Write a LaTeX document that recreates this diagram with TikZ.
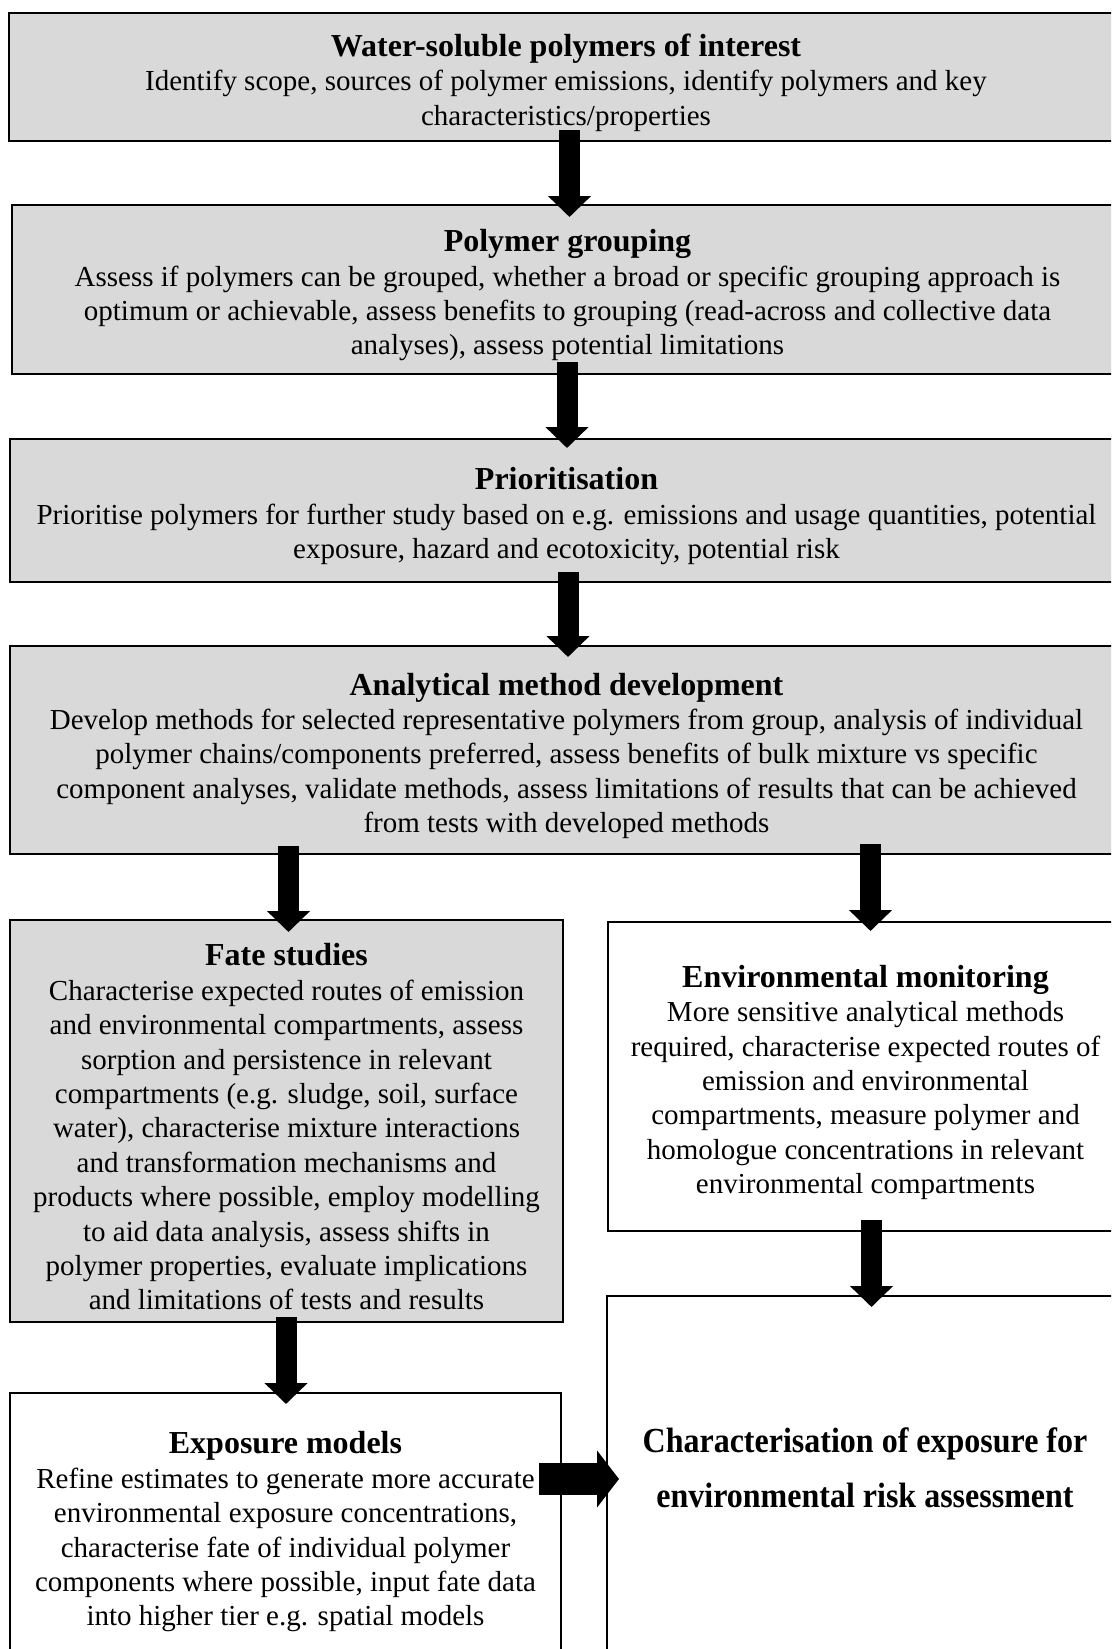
\documentclass[tikz,border=0pt]{standalone}
\usepackage{fontspec}
\setmainfont{Liberation Serif}
\usetikzlibrary{arrows.meta,calc}

\definecolor{boxgray}{HTML}{D9D9D9}

\tikzset{
  box/.style={draw=black, line width=2.6pt, inner sep=0pt, outer sep=0pt,
    align=center, font=\fontsize{29}{34.4}\selectfont},
  graybox/.style={box, fill=boxgray},
  whitebox/.style={box, fill=white},
  varrow/.style={line width=21pt, -{Triangle[length=21pt,width=42pt]}},
  harrow/.style={line width=32pt, -{Triangle[length=22pt,width=56pt]}},
}
% bold heading line; the strut sets the text block a little lower in its box
\newcommand{\ttl}[1]{\rule{0pt}{34pt}{\fontsize{32}{34.4}\selectfont\bfseries #1}}

\begin{document}
\begin{tikzpicture}[x={(1pt,0)}, y={(0,-1pt)}]
\useasboundingbox (0,0) rectangle (1111,1649);
\clip (0,0) rectangle (1111,1649);

% process boxes
\node[graybox, minimum width=1114pt, minimum height=128pt] (b1) at (566,77)
  {\ttl{Water-soluble polymers of interest}\\
   Identify scope, sources of polymer emissions, identify polymers and key\\
   characteristics/properties};

\node[graybox, minimum width=1111pt, minimum height=169pt] (b2) at (567.5,289.5)
  {\ttl{Polymer grouping}\\
   Assess if polymers can be grouped, whether a broad or specific grouping approach is\\
   optimum or achievable, assess benefits to grouping (read-across and collective data\\
   analyses), assess potential limitations};

\node[graybox, minimum width=1113pt, minimum height=143pt] (b3) at (566.5,510.5)
  {\ttl{Prioritisation}\\
   Prioritise polymers for further study based on e.g. emissions and usage quantities, potential\\
   exposure, hazard and ecotoxicity, potential risk};

\node[graybox, minimum width=1113pt, minimum height=208pt] (b4) at (566.5,750)
  {\ttl{Analytical method development}\\
   Develop methods for selected representative polymers from group, analysis of individual\\
   polymer chains/components preferred, assess benefits of bulk mixture vs specific\\
   component analyses, validate methods, assess limitations of results that can be achieved\\
   from tests with developed methods};

\node[graybox, minimum width=553pt, minimum height=402pt] (fate) at (286.5,1121)
  {\ttl{Fate studies}\\
   Characterise expected routes of emission\\
   and environmental compartments, assess\\
   sorption and persistence in relevant\\
   compartments (e.g. sludge, soil, surface\\
   water), characterise mixture interactions\\
   and transformation mechanisms and\\
   products where possible, employ modelling\\
   to aid data analysis, assess shifts in\\
   polymer properties, evaluate implications\\
   and limitations of tests and results};

\node[whitebox, minimum width=515pt, minimum height=309pt] (env) at (865.5,1076.5)
  {\ttl{Environmental monitoring}\\
   More sensitive analytical methods\\
   required, characterise expected routes of\\
   emission and environmental\\
   compartments, measure polymer and\\
   homologue concentrations in relevant\\
   environmental compartments};

\node[whitebox, minimum width=551pt, minimum height=272pt] (exp) at (285.5,1529)
  {\rule{0pt}{28pt}{\fontsize{32}{34.4}\selectfont\bfseries Exposure models}\\
   Refine estimates to generate more accurate\\
   environmental exposure concentrations,\\
   characterise fate of individual polymer\\
   components where possible, input fate data\\
   into higher tier e.g. spatial models};

% the trailing space below the last line lifts the two lines in the box
\node[whitebox, minimum width=516pt, minimum height=369pt,
      font=\fontsize{32}{50}\selectfont\bfseries] (char) at (865,1480.5)
  {\scalebox{1}[1.1]{\begin{tabular}{@{}c@{}}Characterisation of exposure for\\
   environmental risk assessment\\[21pt]\end{tabular}}};

% connectors
\draw[varrow] ($(b1.south)+(3.5,-11)$) -- ($(b2.north)+(2,12)$);
\draw[varrow] ($(b2.south)+(-0.5,-12)$) -- ($(b3.north)+(0.5,9)$);
\draw[varrow] ($(b3.south)+(1.5,-10)$) -- ($(b4.north)+(1.5,11)$);
\draw[varrow] ($(b4.south -| fate.north)+(2,-8)$) -- ($(fate.north)+(2,12)$);
\draw[varrow] ($(b4.south -| env.north)+(5,-10)$) -- ($(env.north)+(5,9)$);
\draw[varrow] ($(fate.south)+(-0.5,-5)$) -- ($(exp.north)+(0.5,11)$);
\draw[varrow] ($(env.south)+(6,-11)$) -- ($(char.north)+(6.5,11)$);
\draw[harrow] ($(exp.east)+(-22,-50)$) -- ($(char.west)+(12,-1.5)$);
\end{tikzpicture}
\end{document}
